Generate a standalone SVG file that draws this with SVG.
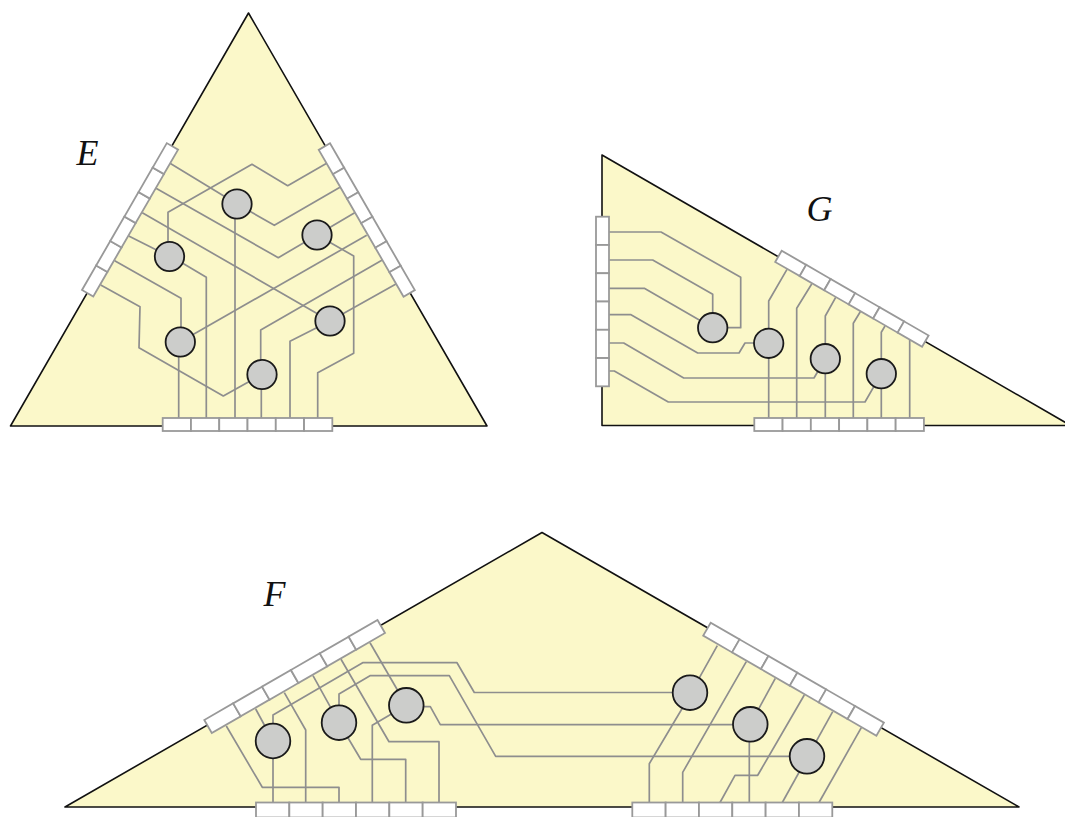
<svg xmlns="http://www.w3.org/2000/svg" width="1065" height="817" viewBox="0 0 1065 817">
<style>
.tri{fill:#fbf8c9;stroke:#111;stroke-width:1.6;stroke-linejoin:round}
.w{fill:none;stroke:#8e8e8e;stroke-width:1.7;stroke-linejoin:round}
.cell{fill:#fff;stroke:#999;stroke-width:1.8}
.n{fill:#cccdcb;stroke:#1a1a1a;stroke-width:1.8}
.lab{font-family:"Liberation Serif","DejaVu Serif",serif;font-style:italic;font-size:36px;fill:#111}
</style>
<defs>
<g id="railS"><rect class="cell" width="28.27" height="13"/><rect class="cell" x="28.27" width="28.27" height="13"/><rect class="cell" x="56.54" width="28.27" height="13"/><rect class="cell" x="84.81" width="28.27" height="13"/><rect class="cell" x="113.08" width="28.27" height="13"/><rect class="cell" x="141.35" width="28.27" height="13"/></g>
<g id="railL"><rect class="cell" width="33.33" height="15"/><rect class="cell" x="33.33" width="33.33" height="15"/><rect class="cell" x="66.66" width="33.33" height="15"/><rect class="cell" x="100" width="33.33" height="15"/><rect class="cell" x="133.33" width="33.33" height="15"/><rect class="cell" x="166.66" width="33.33" height="15"/></g>
</defs>
<g id="regions">
<polygon class="tri" points="248.5,13 10.5,426 487,426"/>
<polygon class="tri" points="602,155 602,425.5 1070.7,425.5"/>
<polygon class="tri" points="542,532.5 65,807 1019,807"/>
</g>
<g id="connectors" class="w">
<path d="M170,163.3L237,204L274.3,225.3L340,187.3"/>
<path d="M156,188.3L278.3,257.7L317,235L354.7,212.7"/>
<path d="M317,235L353.7,256V353.3L317.7,372.7V418"/>
<path d="M142.3,212.7L330,321L396,284"/>
<path d="M330,321L290,341.3V418"/>
<path d="M128.7,236L169.5,256.5L184,264L206.3,277.3V418"/>
<path d="M114.7,260.7L181,298.3V342"/>
<path d="M178.7,342V418"/>
<path d="M180,342L366.7,235.3"/>
<path d="M100.7,285L140,306.7L139,347.7L223.3,396L262,374.5"/>
<path d="M261.3,374.5V418"/>
<path d="M326.7,163.3L287.7,185.7L252,164.3L168,212.3V256.5"/>
<path d="M382.3,260L260.7,330V374.5"/>
<path d="M235,204V418"/>

<path d="M609,232H661L740.7,277.3V327.7H712.7"/>
<path d="M609,260H652.7L712.7,294.3V327.7"/>
<path d="M609,288.3H644.3L712.7,327.7"/>
<path d="M609,314.7H631L697.7,353H739L745,343H768.7"/>
<path d="M609,343H623.7L683.7,378H814L825.3,358.7"/>
<path d="M609,371H614.3L668.3,402H865L881.3,373.7"/>
<path d="M787,269.3L768.7,301V418"/>
<path d="M811.7,284L796.7,308.3V418"/>
<path d="M835.7,297.3L825.3,316V418"/>
<path d="M860.3,311.7L853.3,323.3V418"/>
<path d="M885,326L881.3,332.3V418"/>
<path d="M909.7,339.3V418"/>

<path d="M226.3,726L262.3,787.3H339V802.5"/>
<path d="M255.7,709L273,741V802.5"/>
<path d="M284.3,692.7L305.7,730V802.5"/>
<path d="M313,675.7L339,722.7L360.7,759.3H405.7V802.5"/>
<path d="M341,659.3L389,741.7H439V802.5"/>
<path d="M370,642.7L406.3,705.3"/>
<path d="M406.3,705.3L372.3,725.3V802.5"/>
<path d="M406.3,706.7H430.3L440.3,724.7H750.3"/>
<path d="M339,722.7V694L370,675.7H449.3L495.7,756.3H807"/>
<path d="M273,741V715L362.7,662.7H457L474.3,692.5H690"/>
<path d="M717.3,645.7L681.7,709.3L649.3,763.7V802.5"/>
<path d="M746.3,661.7L682.7,772.3V802.5"/>
<path d="M775.3,678.3L750.3,724.3"/>
<path d="M749.3,724.3V802.5"/>
<path d="M804.3,695L757.7,775.3H735L720,802.5"/>
<path d="M832.7,711.7L782.3,802.5"/>
<path d="M861.3,727.7L819,802.5"/>
</g>
<g id="E-rail-left"><use href="#railS" transform="translate(82,290) rotate(-60)"/></g>
<g id="E-rail-right"><use href="#railS" transform="translate(330,143.3) rotate(60)"/></g>
<g id="E-rail-bottom"><use href="#railS" transform="translate(162.7,418)"/></g>
<g id="G-rail-left"><use href="#railS" transform="translate(609,216.7) rotate(90)"/></g>
<g id="G-rail-diagonal"><use href="#railS" transform="translate(781.7,250.7) rotate(30)"/></g>
<g id="G-rail-bottom"><use href="#railS" transform="translate(754.3,418)"/></g>
<g id="F-rail-left"><use href="#railL" transform="translate(204.3,720) rotate(-30)"/></g>
<g id="F-rail-right"><use href="#railL" transform="translate(710.7,622.7) rotate(30)"/></g>
<g id="F-rail-bottom-left"><use href="#railL" transform="translate(256,802.5)"/></g>
<g id="F-rail-bottom-right"><use href="#railL" transform="translate(632.3,802.5)"/></g>
<g id="E-n1"><circle class="n" cx="237" cy="204" r="14.7"/></g>
<g id="E-n2"><circle class="n" cx="317" cy="235" r="14.7"/></g>
<g id="E-n3"><circle class="n" cx="169.5" cy="256.5" r="14.7"/></g>
<g id="E-n4"><circle class="n" cx="330" cy="321" r="14.7"/></g>
<g id="E-n5"><circle class="n" cx="180.3" cy="342" r="14.7"/></g>
<g id="E-n6"><circle class="n" cx="262" cy="374.5" r="14.7"/></g>
<g id="G-n1"><circle class="n" cx="712.7" cy="327.7" r="14.7"/></g>
<g id="G-n2"><circle class="n" cx="768.7" cy="343.3" r="14.7"/></g>
<g id="G-n3"><circle class="n" cx="825.3" cy="358.7" r="14.7"/></g>
<g id="G-n4"><circle class="n" cx="881.3" cy="373.7" r="14.7"/></g>
<g id="F-n1"><circle class="n" cx="273" cy="741" r="17.3"/></g>
<g id="F-n2"><circle class="n" cx="339" cy="722.7" r="17.3"/></g>
<g id="F-n3"><circle class="n" cx="406.3" cy="705.3" r="17.3"/></g>
<g id="F-n4"><circle class="n" cx="690" cy="692.7" r="17.3"/></g>
<g id="F-n5"><circle class="n" cx="750.3" cy="724.3" r="17.3"/></g>
<g id="F-n6"><circle class="n" cx="807" cy="756.3" r="17.3"/></g>
<text class="lab" x="76.5" y="165">E</text>
<text class="lab" x="806.5" y="221">G</text>
<text class="lab" x="263.5" y="606">F</text>
</svg>
